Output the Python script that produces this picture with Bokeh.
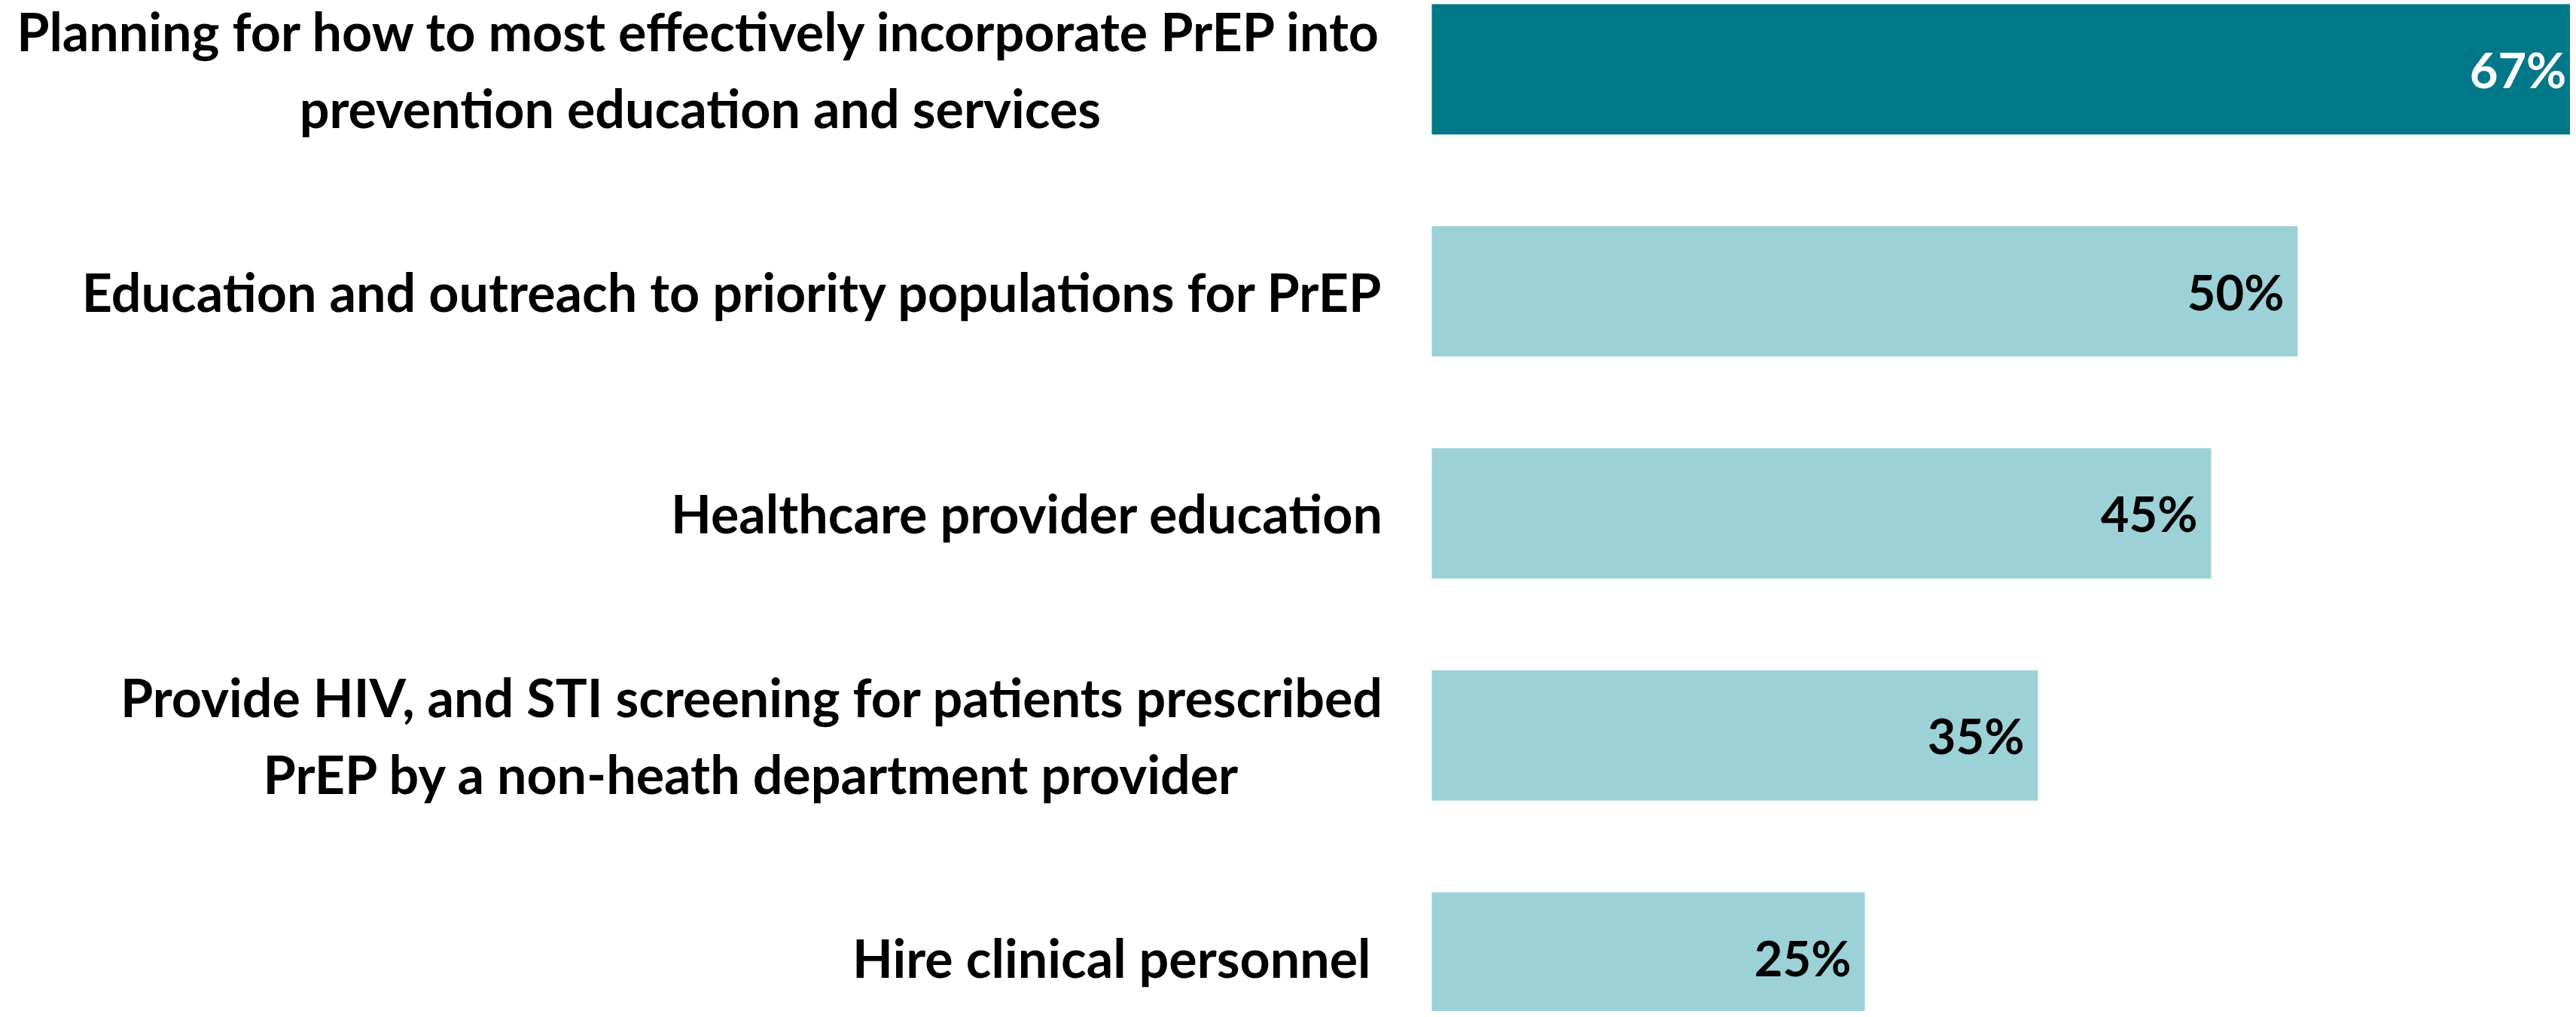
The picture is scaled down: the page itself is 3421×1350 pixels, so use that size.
from bokeh.plotting import figure
from bokeh.models import ColumnDataSource, Range1d
from bokeh.core.properties import value
from bokeh.embed import file_html
from bokeh.resources import INLINE

categories = [
    "Planning for how to most effectively incorporate PrEP into\nprevention education and services",
    "Education and outreach to priority populations for PrEP",
    "Healthcare provider education",
    "Provide HIV, and STI screening for patients prescribed\nPrEP by a non-heath department provider",
    "Hire clinical personnel ",
]
values = [67, 50, 45, 35, 25]
value_labels = ["67%", "50%", "45%", "35%", "25%"]
bar_colors = ["#007887", "#9CD2D7", "#9CD2D7", "#9CD2D7", "#9CD2D7"]
value_colors = ["#FFFFFF", "#000000", "#000000", "#000000", "#000000"]
AXIS_MAX = 66.3  # the source chart's axis maximum (long bar is clipped there)

W, H = 3413, 1342
X_START, X_END = -82.65, 65.74
Y_TOP, Y_BOTTOM = -0.3104, 4.2426

pos = list(range(len(categories)))
label_x = [min(v, AXIS_MAX) for v in values]

src = ColumnDataSource(dict(y=pos, v=values, cat=categories, lab=value_labels,
                            lx=label_x, color=bar_colors, tcolor=value_colors,
                            zero=[0] * len(pos)))

p = figure(width=W, height=H, output_backend="svg", toolbar_location=None,
           x_range=Range1d(X_START, X_END), y_range=Range1d(Y_BOTTOM, Y_TOP),
           min_border=0, outline_line_color=None)
p.axis.visible = False
p.grid.visible = False
p.background_fill_color = "white"
p.border_fill_color = "white"

p.hbar(y="y", left="zero", right="v", height=0.587, fill_color="color",
       line_color=None, source=src)

FONT = value("Lato")
p.text(x="zero", y="y", text="cat", source=src, x_offset=-64,
       text_align="center", anchor="center_right", text_baseline="middle",
       text_font=FONT, text_font_style="bold", text_font_size="70px",
       text_line_height=1.21, text_color="#000000")

p.text(x="lx", y="y", text="lab", source=src, x_offset=-18,
       text_align="right", text_baseline="middle",
       text_font=FONT, text_font_style="bold", text_font_size="65px",
       text_color="tcolor")

open("out.html", "w").write(file_html(p, INLINE))
